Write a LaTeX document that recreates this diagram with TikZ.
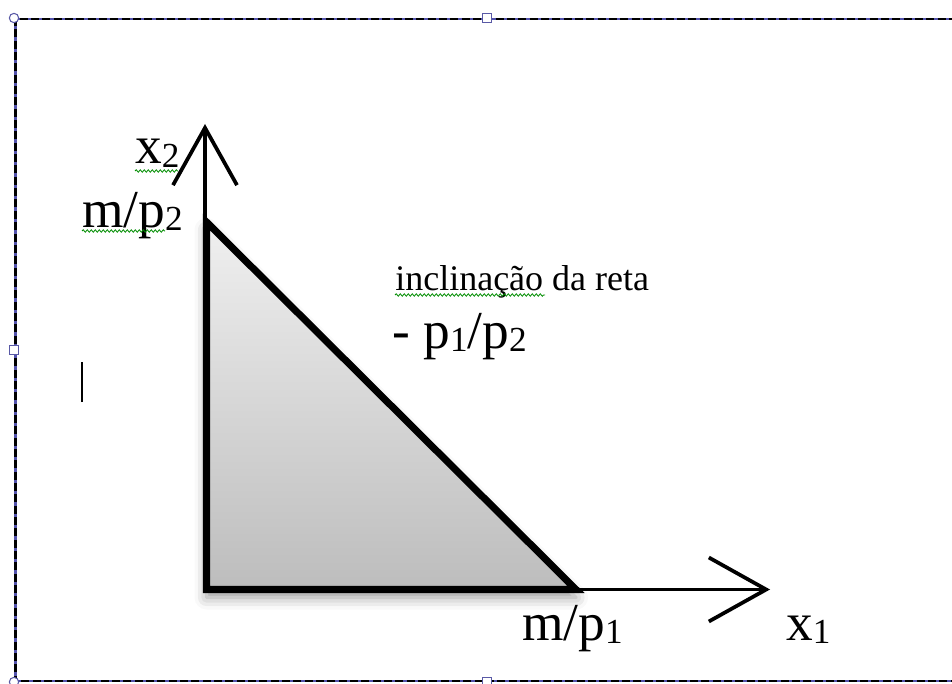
\documentclass[tikz,border=0pt]{standalone}
\usepackage{fontspec}
\setmainfont{Liberation Serif}
\usetikzlibrary{arrows.meta,shadows.blur,decorations.pathmorphing}
\newcommand{\ix}[1]{\raisebox{-0.07em}{\scalebox{0.66}{#1}}}
\tikzset{
  lbl/.style={font=\fontsize{40}{41}\selectfont, inner sep=0pt, anchor=base west},
  smalllbl/.style={font=\fontsize{27}{28}\selectfont, inner sep=0pt, anchor=base west},
  axis/.style={line width=2.8pt, -{Straight Barb[length=43pt,width=48pt,line width=2.8pt]}},
  squiggle/.style={green!55!black, line width=0.6pt,
    decorate, decoration={snake, amplitude=0.9pt, segment length=3pt}},
  handle/.style={draw=blue!30!gray, fill=white, line width=0.8pt},
  framebg/.style={blue!35!gray, line width=1.7pt},
  framefg/.style={black, line width=1.7pt, dash pattern=on 6pt off 2.5pt}
}
\begin{document}
\begin{tikzpicture}[x=75pt,y=75pt]
    \useasboundingbox (0,0) rectangle (9.52,6.83);
    % selection frame
    \draw[framebg] (9.7,0.02) -- (0.155,0.02) -- (0.155,6.64) -- (9.7,6.64);
    \draw[framefg] (9.7,0.02) -- (0.155,0.02) -- (0.155,6.64) -- (9.7,6.64);
    \draw[handle] (0.14,6.65) circle (3.5pt);
    \draw[handle] (0.14,0.01) circle (3.5pt);
    \draw[handle] (4.87,6.65) ++(-3.5pt,-3.5pt) rectangle ++(7pt,7pt);
    \draw[handle] (0.14,3.33) ++(-3.5pt,-3.5pt) rectangle ++(7pt,7pt);
    \draw[handle] (4.87,0.01) ++(-3.5pt,-3.5pt) rectangle ++(7pt,7pt);
    % text cursor
    \draw[line width=1.5pt] (0.82,2.81) -- (0.82,3.21);

    \coordinate (O) at (2.065,0.935);
    \coordinate (A) at (2.065,4.61);
    \coordinate (B) at (5.76,0.935);
    \coordinate (X) at (7.70,0.935);
    \coordinate (Y) at (2.05,5.59);

    \draw[axis] (O) -- (X);
    \draw[axis] (2.05,0.935) -- (Y);
    \draw[line width=5.3pt, line join=miter, top color=gray!12, bottom color=gray!52,
      blur shadow={shadow xshift=0pt, shadow yshift=-6pt, shadow blur radius=9pt, shadow opacity=40}]
      (O) -- (A) -- (B) -- cycle;

    \node[lbl] (x2) at (1.35,5.19) {x\ix{2}};
    \node[lbl] (mp2) at (0.82,4.56) {m/p\ix{2}};
    \node[smalllbl] (incl) at (3.95,3.93) {inclinação da reta};
    \node[lbl] (slope) at (3.92,3.35) {- p\ix{1}/p\ix{2}};
    \node[lbl] (mp1) at (5.22,0.43) {m/p\ix{1}};
    \node[lbl] (x1) at (7.86,0.43) {x\ix{1}};

    \draw[squiggle] (1.35,5.12) -- (1.78,5.12);
    \draw[squiggle] (0.82,4.52) -- (1.65,4.52);
    \draw[squiggle] (3.95,3.88) -- (5.45,3.88);
\end{tikzpicture}
\end{document}
